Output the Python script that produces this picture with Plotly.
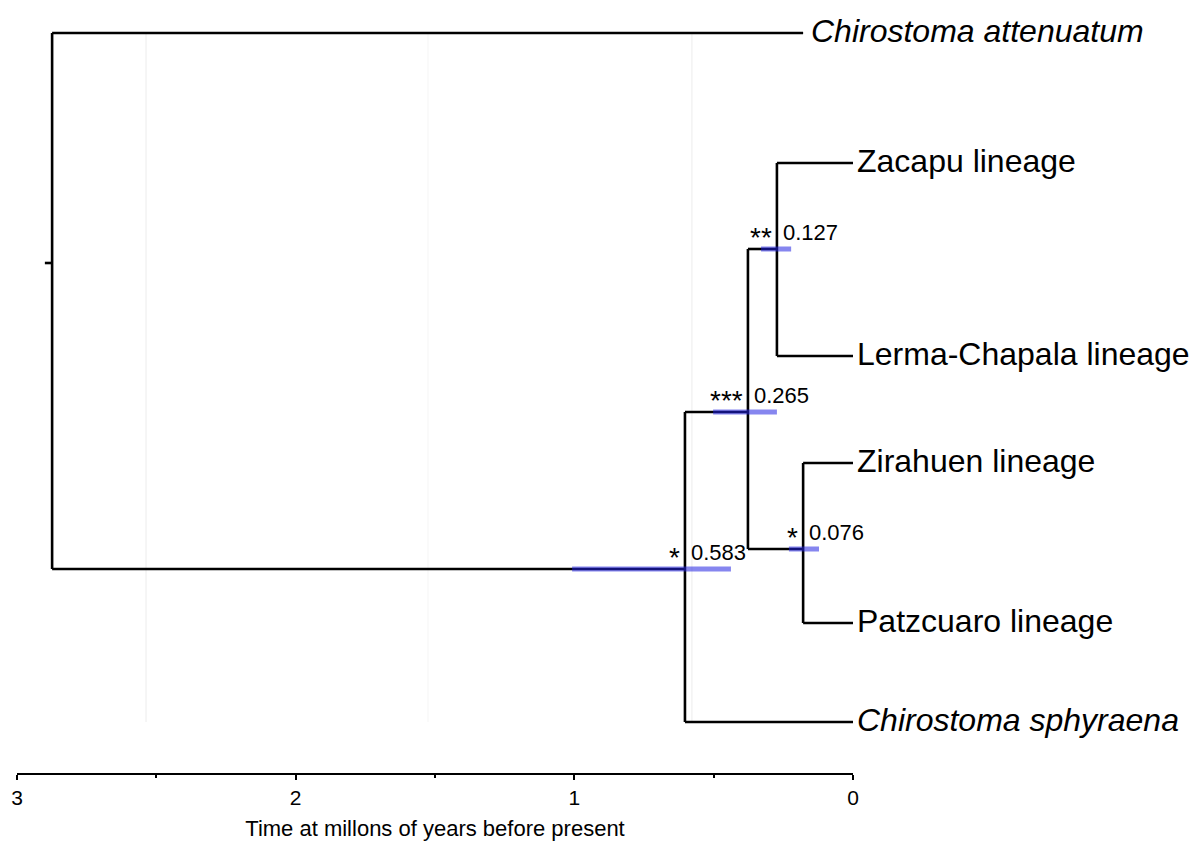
import plotly.graph_objects as go

# ---- data (ages in Myr before present; vertical layout positions) ----
tip_names = ["<i>Chirostoma attenuatum</i>", "Zacapu lineage", "Lerma-Chapala lineage",
             "Zirahuen lineage", "Patzcuaro lineage", "<i>Chirostoma sphyraena</i>"]
tip_age = [0.179, 0.0, 0.0, 0.0, 0.0, 0.0]
tip_y = [33, 163, 356, 463, 623, 722]

node_ids = ["root", "A", "B", "C", "D"]
node_age = [2.874, 0.603, 0.377, 0.273, 0.179]
node_y = [263, 569, 412, 249, 549]          # where the parent branch attaches
node_span = {"root": (33, 569), "A": (412, 722), "B": (249, 549),
             "C": (163, 356), "D": (463, 623)}
node_children_nodes = {"root": ["A"], "A": ["B"], "B": ["C", "D"], "C": [], "D": []}
node_children_tips = {"root": [0], "A": [5], "B": [], "C": [1, 2], "D": [3, 4]}

node_label = ["", "0.583", "0.265", "0.127", "0.076"]
node_support = ["", "*", "***", "**", "*"]
hpd_low = [None, 1.008, 0.502, 0.330, 0.230]
hpd_high = [None, 0.438, 0.273, 0.222, 0.122]

grid_vals = [2.537, 1.525, 0.578]
grid_colors = ["#ececec", "#f5f5f5", "#ececec"]
root_stub = 2.90

xtick_vals = [3, 2, 1, 0]
xtick_text = ["3", "2", "1", "0"]
x_title = "Time at millons of years before present"

FONT = "Liberation Sans, Arial, sans-serif"

fig = go.Figure()

# faint gridlines
for g, gc in zip(grid_vals, grid_colors):
    fig.add_trace(go.Scatter(x=[g, g], y=[tip_y[0], tip_y[-1]], mode="lines",
                             line=dict(color=gc, width=1), hoverinfo="skip",
                             showlegend=False))

# branches
bx, by = [], []
idx = {n: i for i, n in enumerate(node_ids)}
for n in node_ids:
    a = node_age[idx[n]]
    lo, hi = node_span[n]
    bx += [a, a, None]
    by += [lo, hi, None]
    for c in node_children_nodes[n]:
        ci = idx[c]
        bx += [a, node_age[ci], None]
        by += [node_y[ci], node_y[ci], None]
    for t in node_children_tips[n]:
        bx += [a, tip_age[t], None]
        by += [tip_y[t], tip_y[t], None]
# root stub
bx += [root_stub, node_age[0], None]
by += [node_y[0], node_y[0], None]

fig.add_trace(go.Scatter(x=bx, y=by, mode="lines",
                         line=dict(color="black", width=2.6), hoverinfo="skip",
                         showlegend=False))

# HPD bars
for i, n in enumerate(node_ids):
    if hpd_low[i] is None:
        continue
    fig.add_trace(go.Scatter(x=[hpd_low[i], hpd_high[i]], y=[node_y[i], node_y[i]],
                             mode="lines", line=dict(color="rgba(35,35,225,0.55)", width=5),
                             hoverinfo="skip", showlegend=False))

annotations = []
for i, n in enumerate(node_ids):
    if not node_label[i]:
        continue
    annotations.append(dict(x=node_age[i], y=node_y[i], text=node_label[i], showarrow=False,
                            xanchor="left", yanchor="middle", xshift=4, yshift=17,
                            font=dict(family=FONT, size=22, color="black")))
    annotations.append(dict(x=node_age[i], y=node_y[i], text=node_support[i], showarrow=False,
                            xanchor="right", yanchor="middle", xshift=-3, yshift=12,
                            font=dict(family=FONT, size=28, color="black")))

for t in range(len(tip_names)):
    annotations.append(dict(x=tip_age[t], y=tip_y[t], text=tip_names[t], showarrow=False,
                            xanchor="left", yanchor="middle",
                            xshift=6 if t == 0 else 2, yshift=2,
                            font=dict(family=FONT, size=32, color="black")))

fig.update_layout(
    width=1199, height=844,
    margin=dict(l=17, r=346, t=0, b=71),
    plot_bgcolor="white", paper_bgcolor="white",
    annotations=annotations,
    showlegend=False,
    xaxis=dict(range=[3, 0], showgrid=False, zeroline=False,
               showline=True, linecolor="black", linewidth=2,
               ticks="outside", ticklen=5, tickwidth=2, tickcolor="black",
               tickvals=xtick_vals, ticktext=xtick_text,
               tickfont=dict(family=FONT, size=21, color="black"),
               minor=dict(dtick=0.5, ticks="outside", ticklen=3, tickwidth=2, tickcolor="black"),
               title=dict(text=x_title, font=dict(family=FONT, size=22, color="black"), standoff=12)),
    yaxis=dict(range=[773, 0], visible=False, showgrid=False, zeroline=False),
)

fig.write_html("out.html")
